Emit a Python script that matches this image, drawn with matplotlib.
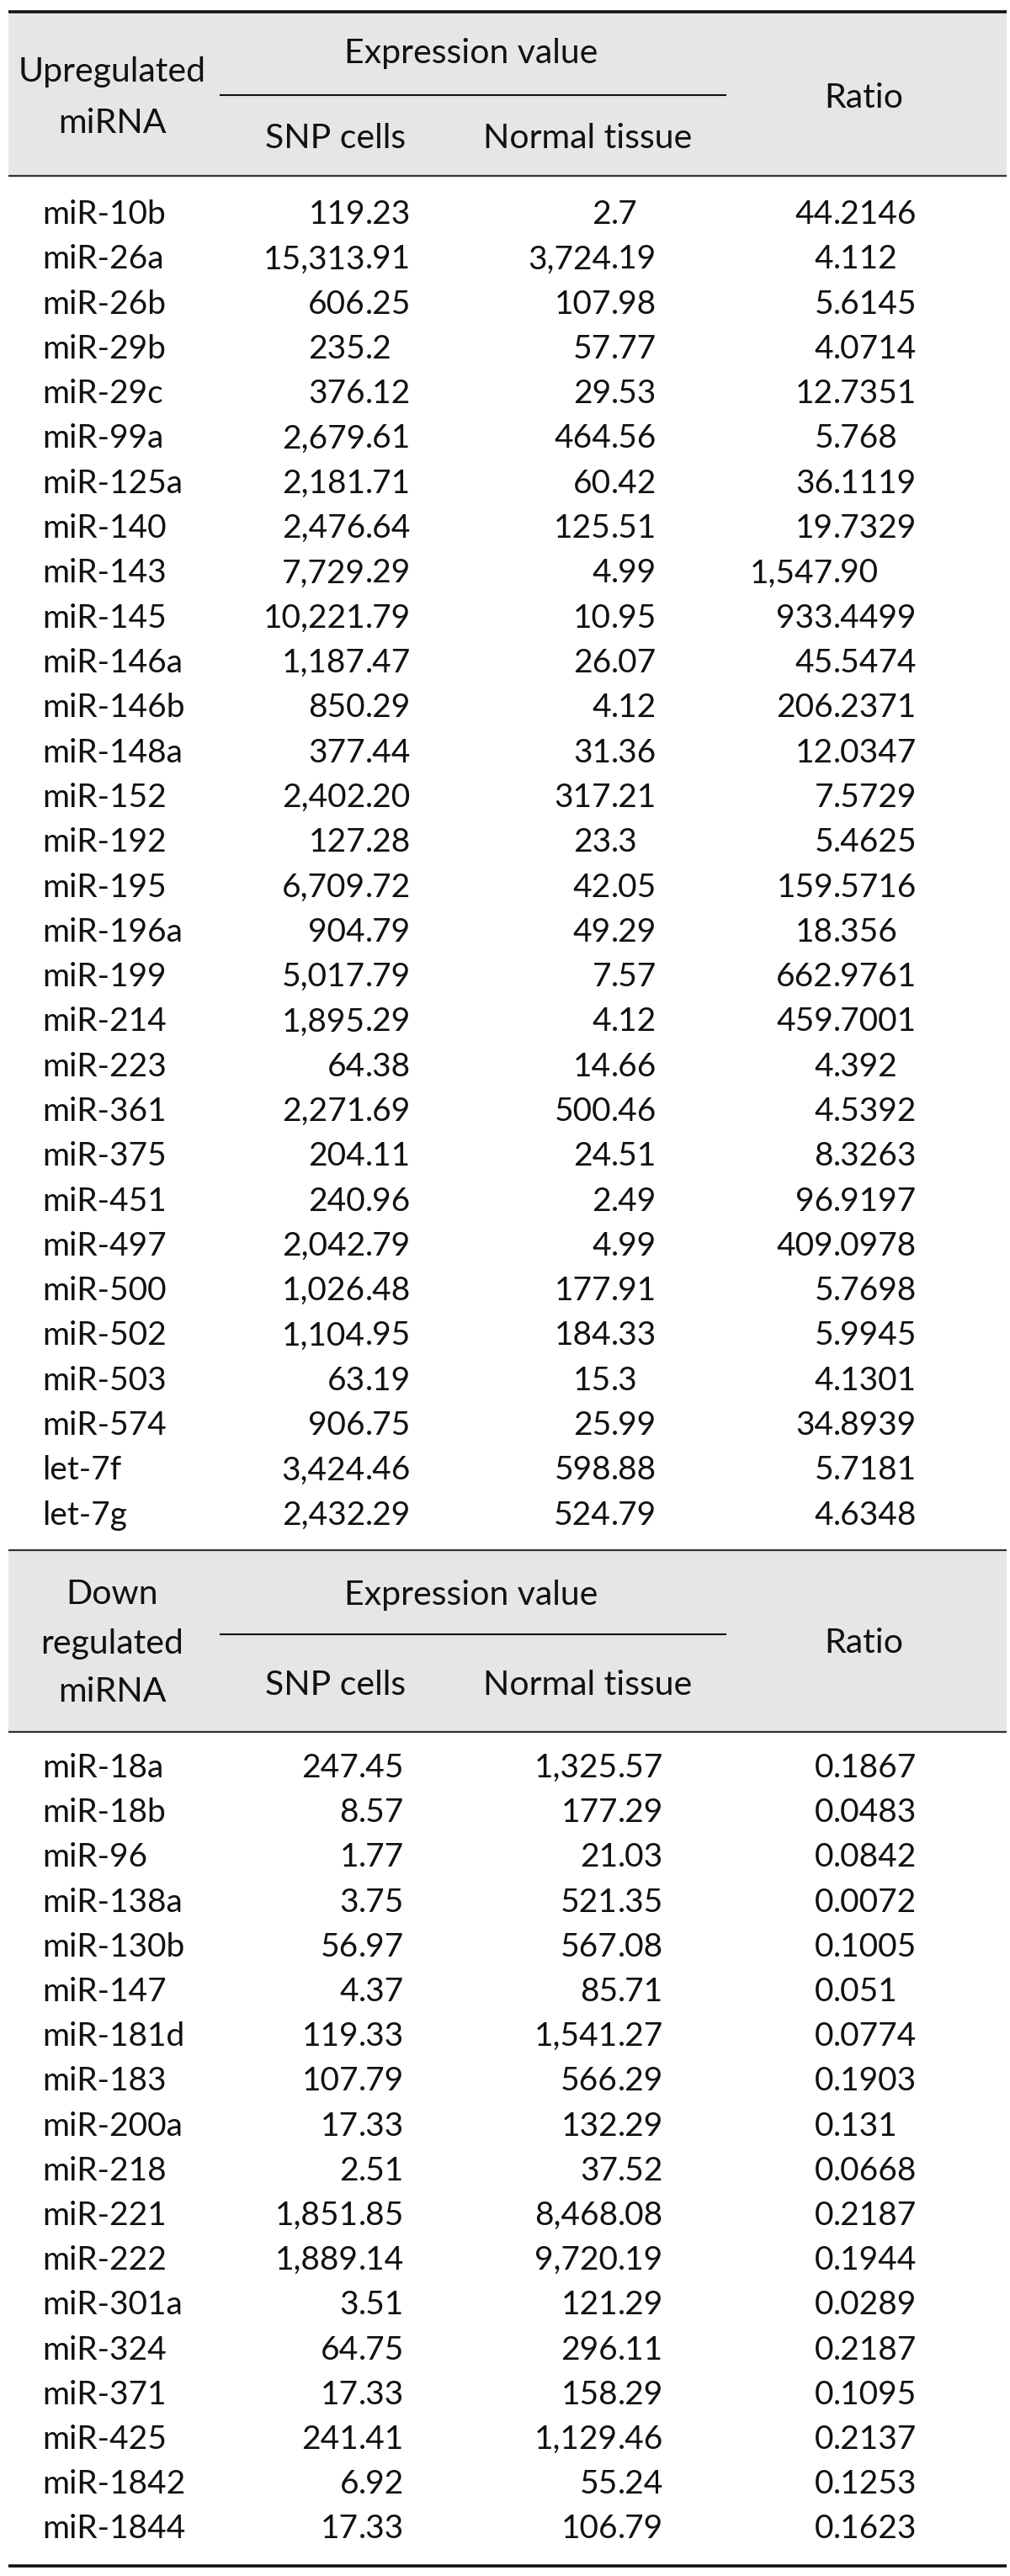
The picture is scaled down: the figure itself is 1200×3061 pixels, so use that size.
import matplotlib.pyplot as plt

# Upregulated miRNAs
up_names = ['miR-10b', 'miR-26a', 'miR-26b', 'miR-29b', 'miR-29c', 'miR-99a', 'miR-125a',
            'miR-140', 'miR-143', 'miR-145', 'miR-146a', 'miR-146b', 'miR-148a', 'miR-152',
            'miR-192', 'miR-195', 'miR-196a', 'miR-199', 'miR-214', 'miR-223', 'miR-361',
            'miR-375', 'miR-451', 'miR-497', 'miR-500', 'miR-502', 'miR-503', 'miR-574',
            'let-7f', 'let-7g']
up_snp = ['119.23', '15,313.91', '606.25', '235.2', '376.12', '2,679.61', '2,181.71',
          '2,476.64', '7,729.29', '10,221.79', '1,187.47', '850.29', '377.44', '2,402.20',
          '127.28', '6,709.72', '904.79', '5,017.79', '1,895.29', '64.38', '2,271.69',
          '204.11', '240.96', '2,042.79', '1,026.48', '1,104.95', '63.19', '906.75',
          '3,424.46', '2,432.29']
up_normal = ['2.7', '3,724.19', '107.98', '57.77', '29.53', '464.56', '60.42',
             '125.51', '4.99', '10.95', '26.07', '4.12', '31.36', '317.21',
             '23.3', '42.05', '49.29', '7.57', '4.12', '14.66', '500.46',
             '24.51', '2.49', '4.99', '177.91', '184.33', '15.3', '25.99',
             '598.88', '524.79']
up_ratio = ['44.2146', '4.112', '5.6145', '4.0714', '12.7351', '5.768', '36.1119',
            '19.7329', '1,547.90', '933.4499', '45.5474', '206.2371', '12.0347', '7.5729',
            '5.4625', '159.5716', '18.356', '662.9761', '459.7001', '4.392', '4.5392',
            '8.3263', '96.9197', '409.0978', '5.7698', '5.9945', '4.1301', '34.8939',
            '5.7181', '4.6348']

# Downregulated miRNAs
down_names = ['miR-18a', 'miR-18b', 'miR-96', 'miR-138a', 'miR-130b', 'miR-147', 'miR-181d',
              'miR-183', 'miR-200a', 'miR-218', 'miR-221', 'miR-222', 'miR-301a', 'miR-324',
              'miR-371', 'miR-425', 'miR-1842', 'miR-1844']
down_snp = ['247.45', '8.57', '1.77', '3.75', '56.97', '4.37', '119.33',
            '107.79', '17.33', '2.51', '1,851.85', '1,889.14', '3.51', '64.75',
            '17.33', '241.41', '6.92', '17.33']
down_normal = ['1,325.57', '177.29', '21.03', '521.35', '567.08', '85.71', '1,541.27',
               '566.29', '132.29', '37.52', '8,468.08', '9,720.19', '121.29', '296.11',
               '158.29', '1,129.46', '55.24', '106.79']
down_ratio = ['0.1867', '0.0483', '0.0842', '0.0072', '0.1005', '0.051', '0.0774',
              '0.1903', '0.131', '0.0668', '0.2187', '0.1944', '0.0289', '0.2187',
              '0.1095', '0.2137', '0.1253', '0.1623']

W, H = 1200, 3061
FS = 28      # body text
HFS = 29.5   # header text
plt.rcParams['font.family'] = ['Lato', 'DejaVu Sans']

fig = plt.figure(figsize=(W / 100, H / 100), dpi=100)
ax = fig.add_axes([0, 0, 1, 1])
ax.set_xlim(0, W)
ax.set_ylim(H, 0)
ax.axis('off')

X0, X1 = 10, 1196
TXT = '#111111'


def num(x, y, s):
    # decimal aligned number
    if '.' in s:
        i, f = s.split('.')
        ax.text(x, y, i, ha='right', va='center', fontsize=FS, color=TXT)
        ax.text(x, y, '.' + f, ha='left', va='center', fontsize=FS, color=TXT)
    else:
        ax.text(x, y, s, ha='right', va='center', fontsize=FS, color=TXT)


def header(top, bottom, label_lines, label_ys, ev_y, cl_y, sub_y, ratio_y):
    ax.fill_between([X0, X1], top, bottom, color='#e6e6e6', lw=0, zorder=0)
    for s, y in zip(label_lines, label_ys):
        ax.text(133, y, s, ha='center', va='center', fontsize=HFS, color=TXT)
    ax.text(560, ev_y, 'Expression value', ha='center', va='center', fontsize=HFS, color=TXT)
    ax.plot([262, 862], [cl_y, cl_y], color='#111111', lw=1.5)
    ax.text(399, sub_y, 'SNP cells', ha='center', va='center', fontsize=HFS, color=TXT)
    ax.text(698, sub_y, 'Normal tissue', ha='center', va='center', fontsize=HFS, color=TXT)
    ax.text(1026, ratio_y, 'Ratio', ha='center', va='center', fontsize=HFS, color=TXT)


def rows(names, snp, normal, ratio, y0, pitch, snp_x, nor_x, rat_x):
    for k in range(len(names)):
        y = y0 + k * pitch
        ax.text(50, y, names[k], ha='left', va='center', fontsize=FS, color=TXT)
        num(snp_x, y, snp[k])
        num(nor_x, y, normal[k])
        num(rat_x, y, ratio[k])


# section 1
header(14, 209, ['Upregulated', 'miRNA'], [86, 147], 63, 113, 165, 116)
ax.plot([X0, X1], [14, 14], color='#111111', lw=2.6, solid_capstyle='butt')
ax.plot([X0, X1], [209, 209], color='#333333', lw=1.6, solid_capstyle='butt')
rows(up_names, up_snp, up_normal, up_ratio, 255, 53.3, 434, 726, 990)

# section 2
header(1842, 2058, ['Down', 'regulated', 'miRNA'], [1895, 1953, 2010], 1895, 1942, 2002, 1953)
ax.plot([X0, X1], [1842, 1842], color='#333333', lw=1.6, solid_capstyle='butt')
ax.plot([X0, X1], [2058, 2058], color='#333333', lw=1.6, solid_capstyle='butt')
rows(down_names, down_snp, down_normal, down_ratio, 2101, 53.2, 426, 734, 990)
ax.plot([X0, X1], [3049, 3049], color='#111111', lw=2.6, solid_capstyle='butt')

fig.savefig('out.png', dpi=100)
